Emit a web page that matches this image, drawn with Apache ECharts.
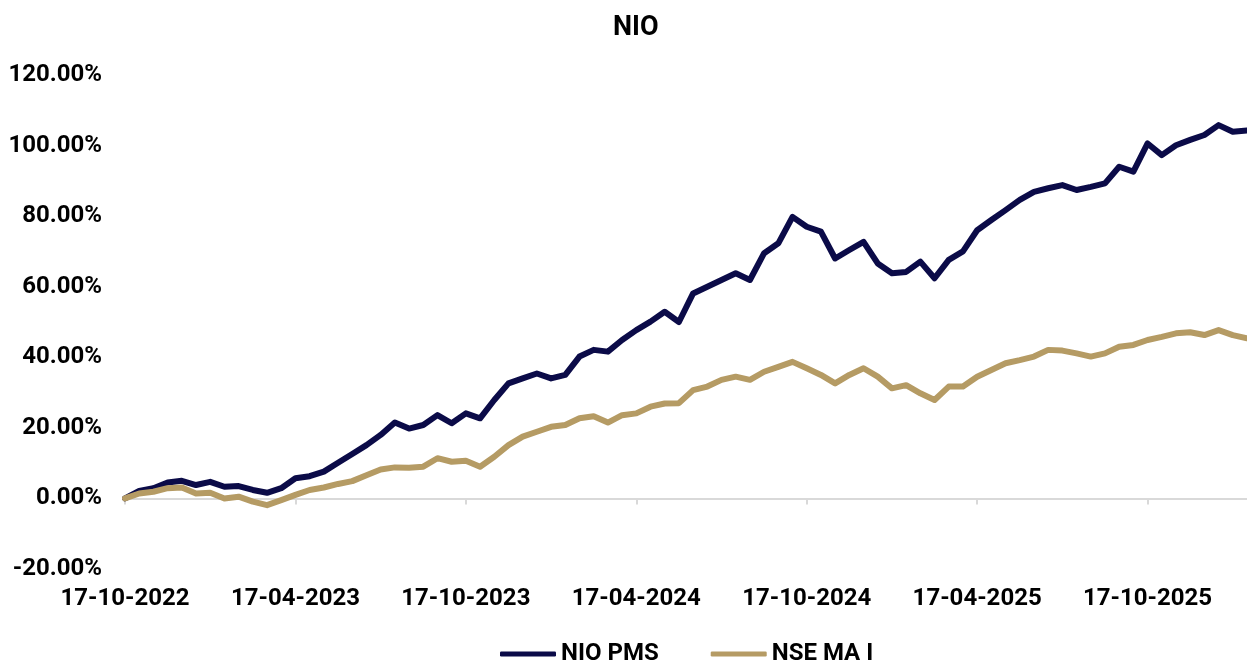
<!DOCTYPE html>
<html>
<head>
<meta charset="utf-8">
<title>NIO</title>
<script src="https://cdn.jsdelivr.net/npm/echarts@6/dist/echarts.min.js"></script>
<style>
  html, body { margin: 0; padding: 0; background: #fff; }
  #chart { width: 1247px; height: 662px; }
</style>
</head>
<body>
<div id="chart"></div>
<script>
// labels shown on the x axis (every 6 months)
var tickLabels = ['17-10-2022', '17-04-2023', '17-10-2023', '17-04-2024', '17-10-2024', '17-04-2025', '17-10-2025']

// half-monthly sample dates: 17th and 1st of each month, from 17-10-2022
var categories = []
;(function () {
  var y = 2022, m = 10
  for (var k = 0; k < 40; k++) {
    var mm = (m < 10 ? '0' : '') + m
    categories.push('17-' + mm + '-' + y)
    m++
    if (m > 12) { m = 1; y++ }
    mm = (m < 10 ? '0' : '') + m
    categories.push('01-' + mm + '-' + y)
  }
})()

// cumulative return, %
var nioPms = [
  0, 2.1, 2.9, 4.5, 5.0, 3.8, 4.7, 3.3, 3.5, 2.4,
  1.6, 2.9, 5.7, 6.3, 7.6, 10.1, 12.6, 15.1, 18.0, 21.5,
  19.8, 20.8, 23.6, 21.3, 24.1, 22.7, 27.9, 32.6, 34.0, 35.4,
  34.0, 35.0, 40.2, 42.1, 41.6, 44.9, 47.7, 50.1, 52.9, 50.0,
  58.1, 60.0, 61.9, 63.8, 61.9, 69.5, 72.3, 79.8, 77.0, 75.6,
  68.0, 70.4, 72.7, 66.6, 63.8, 64.2, 67.1, 62.4, 67.6, 70.0,
  76.0, 78.9, 81.7, 84.6, 86.9, 87.9, 88.8, 87.4, 88.3, 89.3,
  94.0, 92.6, 100.6, 97.3, 100.1, 101.6, 103.0, 105.8, 103.9, 104.3
]
var nseMa = [
  0, 1.4, 1.9, 2.9, 3.1, 1.4, 1.6, 0, 0.5, -0.9,
  -1.9, -0.5, 1.0, 2.4, 3.1, 4.1, 4.9, 6.6, 8.2, 8.8,
  8.7, 9.0, 11.4, 10.4, 10.7, 9.0, 11.8, 15.1, 17.5, 18.9,
  20.3, 20.8, 22.7, 23.3, 21.5, 23.6, 24.1, 26.0, 26.9, 27.0,
  30.7, 31.7, 33.6, 34.5, 33.6, 35.9, 37.3, 38.7, 36.9, 35.0,
  32.6, 35.0, 36.9, 34.5, 31.2, 32.1, 29.8, 27.9, 31.7, 31.7,
  34.5, 36.4, 38.3, 39.2, 40.2, 42.1, 41.9, 41.1, 40.2, 41.1,
  43.0, 43.5, 44.9, 45.8, 46.8, 47.1, 46.3, 47.7, 46.3, 45.4
]

var FONT = 'Roboto, "Noto Sans", sans-serif'
var chart = echarts.init(document.getElementById('chart'))

var option = {
  backgroundColor: '#fff',
  animation: false,
  title: {
    text: 'NIO',
    left: 608,
    top: 10,
    textStyle: { fontFamily: FONT, fontSize: 27, fontWeight: 'bold', color: '#000' }
  },
  legend: {
    left: 495,
    top: 637,
    itemWidth: 56,
    itemHeight: 5,
    itemGap: 52,
    icon: 'roundRect',
    textStyle: { fontFamily: FONT, fontSize: 24, fontWeight: 'bold', color: '#000' },
    data: ['NIO PMS', 'NSE MA I']
  },
  grid: {
    left: 125,
    right: 0,
    top: 75,
    bottom: 93
  },
  xAxis: [{
    // line sits on 0%
    type: 'category',
    boundaryGap: false,
    data: categories,
    axisLine: { onZero: true, lineStyle: { color: '#d9d9d9', width: 2 } },
    axisTick: { show: true, interval: 11, length: 6, lineStyle: { color: '#d9d9d9', width: 2 } },
    axisLabel: { show: false },
    splitLine: { show: false }
  }, {
    // labels at the bottom of the plot
    type: 'category',
    boundaryGap: false,
    position: 'bottom',
    data: categories,
    axisLine: { show: false, onZero: false },
    axisTick: { show: false },
    axisLabel: {
      interval: 11,
      margin: 18,
      fontFamily: FONT,
      fontSize: 24,
      fontWeight: 'bold',
      color: '#000',
      formatter: function (v) {
        return tickLabels.indexOf(v) > -1 ? v : ''
      }
    },
    splitLine: { show: false }
  }],
  yAxis: {
    type: 'value',
    min: -20,
    max: 120,
    interval: 20,
    axisLine: { show: false },
    axisTick: { show: false },
    splitLine: { show: false },
    axisLabel: {
      margin: 23,
      fontFamily: FONT,
      fontSize: 24,
      fontWeight: 'bold',
      color: '#000',
      formatter: function (v) { return v.toFixed(2) + '%' }
    }
  },
  series: [{
    name: 'NIO PMS',
    type: 'line',
    xAxisIndex: 0,
    data: nioPms,
    showSymbol: false,
    color: '#0b0b48',
    lineStyle: { width: 6, color: '#0b0b48', cap: 'round', join: 'round' }
  }, {
    name: 'NSE MA I',
    type: 'line',
    xAxisIndex: 0,
    data: nseMa,
    showSymbol: false,
    color: '#b59b64',
    lineStyle: { width: 6, color: '#b59b64', cap: 'round', join: 'round' }
  }]
}

chart.setOption(option)
</script>
</body>
</html>
